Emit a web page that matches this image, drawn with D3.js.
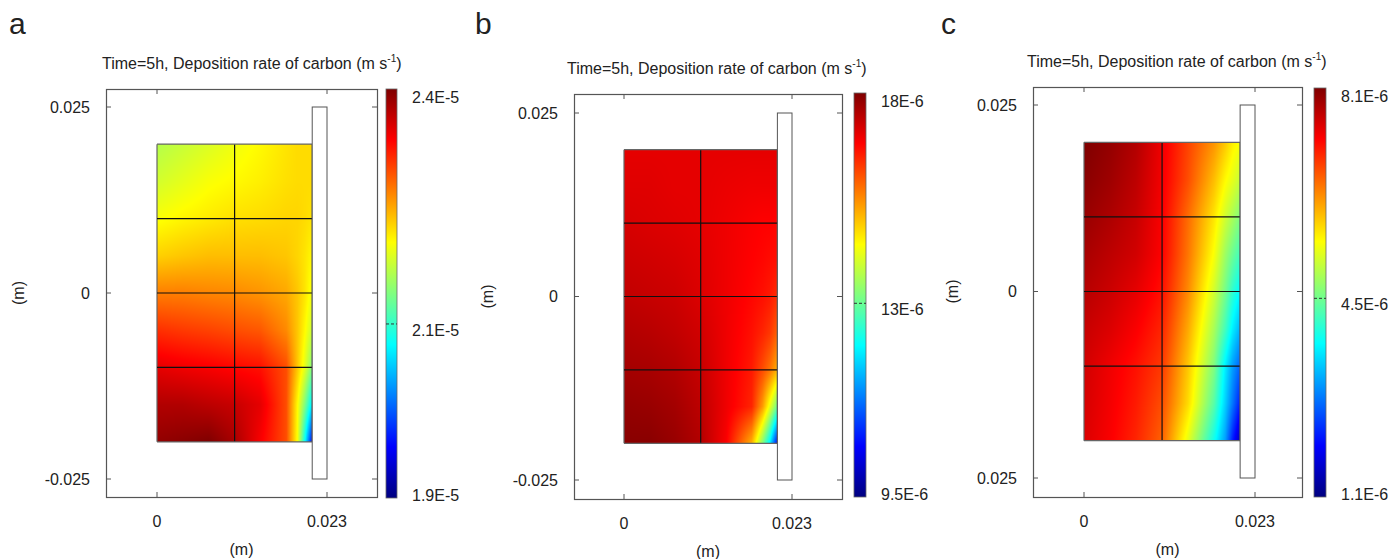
<!DOCTYPE html>
<html>
<head>
<meta charset="utf-8">
<script src="https://cdn.jsdelivr.net/npm/d3@7"></script>
<style>
  body { margin: 0; background: #fff; }
  svg { display: block; font-family: Arial, "Liberation Sans", sans-serif; }
</style>
</head>
<body>
<svg width="1394" height="559"></svg>
<script>
'use strict';

// mesh node positions (m), rows from top to bottom
const nodeX = [0, 0.0035, 0.007, 0.0105, 0.014, 0.0175, 0.019, 0.020, 0.021];
const nodeY = [0.02, 0.015, 0.01, 0.005, 0, -0.005, -0.01, -0.015, -0.02];

// deposition rate, in 1E-6 m/s
const rateA = [
  [21.59, 21.68, 21.77, 21.87, 21.96, 22.06, 22.10, 22.10, 22.10],
  [21.73, 21.82, 21.91, 21.96, 22.01, 22.08, 22.10, 22.10, 22.10],
  [21.91, 21.98, 22.03, 22.08, 22.10, 22.13, 22.13, 22.10, 22.06],
  [22.15, 22.20, 22.24, 22.24, 22.24, 22.20, 22.13, 22.06, 21.96],
  [22.53, 22.53, 22.50, 22.48, 22.43, 22.34, 22.20, 22.06, 21.87],
  [22.90, 22.85, 22.81, 22.76, 22.71, 22.48, 22.20, 21.96, 21.68],
  [23.23, 23.18, 23.14, 23.09, 23.04, 22.76, 22.20, 21.82, 21.35],
  [23.47, 23.47, 23.42, 23.37, 23.23, 22.76, 21.96, 21.35, 20.65],
  [23.61, 23.65, 23.70, 23.51, 23.14, 22.76, 21.91, 20.79, 19.56]
];
const rateB = [
  [16.07, 16.07, 16.07, 16.07, 16.07, 16.07, 16.07, 16.07, 16.07],
  [16.11, 16.11, 16.07, 16.07, 16.03, 16.00, 16.00, 16.00, 16.00],
  [16.18, 16.14, 16.11, 16.07, 16.00, 15.92, 15.89, 15.89, 15.85],
  [16.25, 16.22, 16.18, 16.11, 16.00, 15.89, 15.85, 15.81, 15.78],
  [16.33, 16.29, 16.25, 16.14, 16.00, 15.85, 15.78, 15.71, 15.56],
  [16.44, 16.40, 16.33, 16.22, 16.00, 15.78, 15.63, 15.49, 15.19],
  [16.54, 16.51, 16.44, 16.29, 16.00, 15.71, 15.34, 15.05, 14.61],
  [16.65, 16.62, 16.54, 16.36, 16.00, 15.63, 14.76, 13.88, 13.00],
  [16.73, 16.73, 16.62, 16.44, 15.92, 14.61, 13.15, 12.06, 10.38]
];
const rateC = [
  [8.10, 7.96, 7.75, 7.33, 6.77, 6.21, 5.86, 5.58, 5.44],
  [8.03, 7.89, 7.68, 7.30, 6.70, 5.93, 5.51, 5.30, 5.09],
  [7.93, 7.79, 7.61, 7.26, 6.49, 5.65, 5.16, 4.88, 4.60],
  [7.82, 7.68, 7.54, 7.23, 6.42, 5.44, 4.81, 4.46, 4.18],
  [7.72, 7.58, 7.40, 7.12, 6.28, 5.16, 4.53, 4.04, 3.69],
  [7.61, 7.47, 7.26, 6.98, 6.07, 4.88, 4.18, 3.62, 3.20],
  [7.54, 7.33, 7.12, 6.84, 5.86, 4.60, 3.62, 3.06, 2.64],
  [7.51, 7.30, 7.05, 6.70, 5.72, 4.32, 3.41, 2.78, 2.15],
  [7.47, 7.26, 6.98, 6.56, 5.30, 3.83, 3.06, 2.15, 1.45]
];

// colour ranges (1E-6 m/s) and colour bar labels
const rangeA = [19, 23.7], rangeB = [9.5, 16.8], rangeC = [1.1, 8.1];
const barTickA = 21, barTickB = 13, barTickC = 4.5;
const barLabelsA = ["2.4E-5", "2.1E-5", "1.9E-5"];
const barLabelsB = ["18E-6", "13E-6", "9.5E-6"];
const barLabelsC = ["8.1E-6", "4.5E-6", "1.1E-6"];

const xTicks = [0, 0.023], xTickLabels = ["0", "0.023"];
const yTicks = [0.025, 0, -0.025];
const yTickLabelsAB = ["0.025", "0", "-0.025"];
const yTickLabelsC = ["0.025", "0", "0.025"];

const meshX = [0, 0.0105, 0.021];
const meshY = [0.02, 0.01, 0, -0.01, -0.02];
const electrode = { x0: 0.021, x1: 0.023, y0: -0.025, y1: 0.025 };

const jetStops = [0, 0.125, 0.375, 0.625, 0.875, 1];
const jetColors = ["#00007f", "#0000ff", "#00ffff", "#ffff00", "#ff0000", "#7f0000"];

const panels = [
  { letter: "a", lx: 9, ly: 34, rate: rateA, range: rangeA, barTick: barTickA, barLabels: barLabelsA, yLabels: yTickLabelsAB,
    frame: [106, 377, 89, 497], xr: [157, 327], yr: [107, 479], bar: [386, 11, 89, 498], titleX: 102, titleY: 69, ylabX: 18 },
  { letter: "b", lx: 475, ly: 34, rate: rateB, range: rangeB, barTick: barTickB, barLabels: barLabelsB, yLabels: yTickLabelsAB,
    frame: [574, 842, 94, 499], xr: [624, 792], yr: [113, 480], bar: [854, 12, 93, 497], titleX: 567, titleY: 74, ylabX: 487 },
  { letter: "c", lx: 941, ly: 34, rate: rateC, range: rangeC, barTick: barTickC, barLabels: barLabelsC, yLabels: yTickLabelsC,
    frame: [1033, 1302, 87, 497], xr: [1084, 1255], yr: [105, 478], bar: [1314, 12, 88, 497], titleX: 1027, titleY: 67, ylabX: 952 }
];

const svg = d3.select("svg");
const ink = "#222";
const frameCol = "#555";
const fs = "16px";

function colourScale(range) {
  return d3.scaleLinear()
    .domain(jetStops.map(s => range[0] + s * (range[1] - range[0])))
    .range(jetColors)
    .clamp(true);
}

panels.forEach(p => {
  const g = svg.append("g");
  const x = d3.scaleLinear().domain(xTicks).range(p.xr);
  const y = d3.scaleLinear().domain([0.025, -0.025]).range(p.yr);
  const colour = colourScale(p.range);
  const [fl, fr, ft, fb] = p.frame;

  // panel letter
  g.append("text").attr("x", p.lx).attr("y", p.ly)
    .style("font-size", "30px").style("fill", ink).text(p.letter);

  // title
  const title = g.append("text").attr("x", p.titleX).attr("y", p.titleY)
    .style("font-size", fs).style("fill", ink);
  title.append("tspan").text("Time=5h, Deposition rate of carbon (m s");
  title.append("tspan").attr("dy", -7).style("font-size", "10px").text("-1");
  title.append("tspan").attr("dy", 7).text(")");

  // field, bilinear over the node grid
  const colIdx = d3.scaleLinear().domain(nodeX).range(d3.range(nodeX.length));
  const rowIdx = d3.scaleLinear().domain(nodeY).range(d3.range(nodeY.length));
  const px0 = Math.round(x(0)), px1 = Math.round(x(0.021));
  const py0 = Math.round(y(0.02)), py1 = Math.round(y(-0.02));
  const w = px1 - px0, h = py1 - py0;
  const canvas = document.createElement("canvas");
  canvas.width = w; canvas.height = h;
  const ctx = canvas.getContext("2d");
  const img = ctx.createImageData(w, h);
  for (let j = 0; j < h; j++) {
    const fy = Math.max(0, Math.min(nodeY.length - 1, rowIdx(y.invert(py0 + j + 0.5))));
    const r0 = Math.min(Math.floor(fy), nodeY.length - 2), ty = fy - r0;
    for (let i = 0; i < w; i++) {
      const fx = Math.max(0, Math.min(nodeX.length - 1, colIdx(x.invert(px0 + i + 0.5))));
      const c0 = Math.min(Math.floor(fx), nodeX.length - 2), tx = fx - c0;
      const top = p.rate[r0][c0] * (1 - tx) + p.rate[r0][c0 + 1] * tx;
      const bot = p.rate[r0 + 1][c0] * (1 - tx) + p.rate[r0 + 1][c0 + 1] * tx;
      const c = d3.rgb(colour(top * (1 - ty) + bot * ty));
      const k = (j * w + i) * 4;
      img.data[k] = c.r; img.data[k + 1] = c.g; img.data[k + 2] = c.b; img.data[k + 3] = 255;
    }
  }
  ctx.putImageData(img, 0, 0);
  g.append("image").attr("x", px0).attr("y", py0).attr("width", w).attr("height", h)
    .attr("preserveAspectRatio", "none").attr("href", canvas.toDataURL());

  // mesh lines
  meshX.forEach(v => g.append("line")
    .attr("x1", x(v)).attr("x2", x(v)).attr("y1", y(0.02)).attr("y2", y(-0.02))
    .attr("stroke", v === 0 || v === 0.021 ? "#666" : "#111").attr("stroke-width", 1.2));
  meshY.forEach(v => g.append("line")
    .attr("x1", x(0)).attr("x2", x(0.021)).attr("y1", y(v)).attr("y2", y(v))
    .attr("stroke", Math.abs(v) === 0.02 ? "#666" : "#111").attr("stroke-width", 1.2));

  // electrode
  g.append("rect")
    .attr("x", x(electrode.x0)).attr("y", y(electrode.y1))
    .attr("width", x(electrode.x1) - x(electrode.x0)).attr("height", y(electrode.y0) - y(electrode.y1))
    .attr("fill", "#fff").attr("stroke", frameCol).attr("stroke-width", 1);

  // frame with inward ticks
  g.append("rect").attr("x", fl + 0.5).attr("y", ft + 0.5).attr("width", fr - fl).attr("height", fb - ft)
    .attr("fill", "none").attr("stroke", frameCol).attr("stroke-width", 1.2);
  xTicks.forEach(v => {
    g.append("line").attr("x1", x(v)).attr("x2", x(v)).attr("y1", ft).attr("y2", ft + 5).attr("stroke", frameCol);
    g.append("line").attr("x1", x(v)).attr("x2", x(v)).attr("y1", fb).attr("y2", fb - 5).attr("stroke", frameCol);
  });
  yTicks.forEach(v => {
    g.append("line").attr("x1", fl).attr("x2", fl + 5).attr("y1", y(v)).attr("y2", y(v)).attr("stroke", frameCol);
    g.append("line").attr("x1", fr).attr("x2", fr - 5).attr("y1", y(v)).attr("y2", y(v)).attr("stroke", frameCol);
  });

  // tick labels
  xTicks.forEach((v, i) => g.append("text").attr("x", x(v)).attr("y", fb + 30)
    .attr("text-anchor", "middle").style("font-size", fs).style("fill", ink).text(xTickLabels[i]));
  yTicks.forEach((v, i) => g.append("text").attr("x", fl - 16).attr("y", y(v)).attr("dy", "0.35em")
    .attr("text-anchor", "end").style("font-size", fs).style("fill", ink).text(p.yLabels[i]));

  // axis labels
  g.append("text").attr("x", (fl + fr) / 2).attr("y", fb + 58).attr("text-anchor", "middle")
    .style("font-size", fs).style("fill", ink).text("(m)");
  g.append("text").attr("transform", `translate(${p.ylabX},${y(0)}) rotate(-90)`).attr("dy", "0.35em")
    .attr("text-anchor", "middle").style("font-size", fs).style("fill", ink).text("(m)");

  // colour bar
  const [bx, bw, bt, bb] = p.bar;
  const barY = d3.scaleLinear().domain(p.range).range([bb, bt]);
  const gradId = "grad" + p.letter;
  const grad = svg.append("defs").append("linearGradient").attr("id", gradId)
    .attr("x1", 0).attr("y1", 1).attr("x2", 0).attr("y2", 0);
  grad.selectAll("stop").data(jetStops).join("stop")
    .attr("offset", d => d).attr("stop-color", (d, i) => jetColors[i]);
  g.append("rect").attr("x", bx).attr("y", bt).attr("width", bw).attr("height", bb - bt)
    .attr("fill", `url(#${gradId})`).attr("stroke", "#666").attr("stroke-width", 0.8);
  g.append("line").attr("x1", bx).attr("x2", bx + bw)
    .attr("y1", barY(p.barTick)).attr("y2", barY(p.barTick))
    .attr("stroke", "#333").attr("stroke-dasharray", "3,2");
  const labY = [bt + 8, barY(p.barTick) + 6, bb - 3];
  p.barLabels.forEach((t, i) => g.append("text").attr("x", bx + bw + 15).attr("y", labY[i]).attr("dy", "0.35em")
    .style("font-size", fs).style("fill", ink).text(t));
});
</script>
</body>
</html>
